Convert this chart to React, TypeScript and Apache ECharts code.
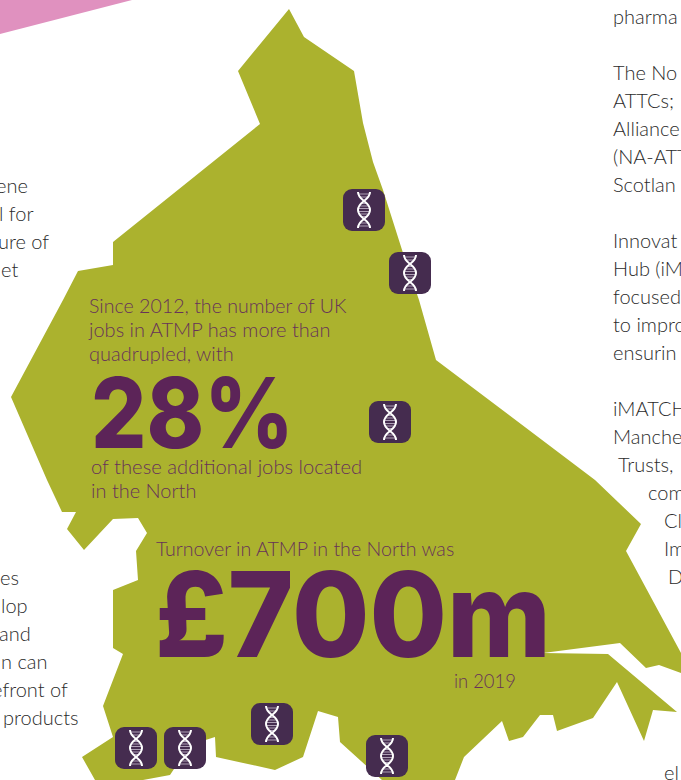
import React, { useEffect, useRef } from "react";
import * as echarts from "echarts";

const BODY_FONT = "Lato";
const BIG_FONT = "Inter";
const COLOR_BODY = "#2b2b2b";
const COLOR_MAP = "#abb22e";
const COLOR_PINK = "#e091bf";
const COLOR_PURPLE = "#5c2458";
const COLOR_SOFT = "#673259";
const COLOR_ICON = "#452c4f";

const mapOutline = [
  [289,9],[304,37],[354,71],[363,123],[373,162],[383,190],[403,253],[419,300],[436,360],[595,480],[641,524],[626,551],[681,653],
  [681,673],[659,665],[646,668],[620,643],[543,653],[608,654],[677,712],[653,710],[644,741],[617,682],[593,718],[557,731],[553,715],
  [540,715],[523,737],[509,741],[502,721],[464,757],[455,780],[382,780],[340,742],[338,717],[318,711],[303,757],[275,770],[216,757],
  [215,737],[190,745],[170,775],[143,780],[95,780],[82,757],[113,737],[103,706],[123,654],[113,648],[113,590],[138,580],[136,551],
  [147,533],[138,518],[113,519],[84,550],[67,529],[76,512],[62,512],[47,480],[11,397],[63,300],[78,271],[113,265],[113,242],[260,124],[238,71],
];
const pinkOutline = [[0,0],[132,0],[0,34]];
const iconSpots = [[343,189],[389,252],[369,401],[115,727],[164,727],[251,703],[366,735]];

const leftLines = ["ene","l for","ure of","et","es","lop","and","n can","efront of","products"];
const leftX = [-4,-1,-2,1,0,1,-1,1,-8,3];
const leftY = [185,213,241,269,577,605,633,661,689,717];
const rightLines = ["pharma","The No","ATTCs;","Alliance","(NA-ATT","Scotlan","Innovat","Hub (iM","focused","to impro","ensurin","iMATCH","Manche","Trusts,","com","Cl","Im","D","el"];
const rightX = [613,613,613,613,613,613,613,613,613,613,613,613,613,618,648,664,664,668,664];
const rightY = [16,72,100,128,156,184,240,268,296,324,352,408,436,464,492,520,548,576,772];

const introLines = ["Since 2012, the number of UK","jobs in ATMP has more than","quadrupled, with"];
const introY = [305,329,353];
const introScale = [0.98,1.0,1.0];
const outroLines = ["of these additional jobs located","in the North"];
const outroY = [466,490];
const outroScale = [1.01,1.0];
const bigShare = "28%";
const turnoverLabel = "Turnover in ATMP in the North was";
const bigTurnover = "£700m";
const yearLabel = "in 2019";

const STRANDS = "M-6 -18C-6 -9 6 -9 6 0C6 9 -6 9 -6 18M6 -18C6 -9 -6 -9 -6 0C-6 9 6 9 6 18";
const RUNGS = "M-5 -16H5M-4 -13H4M-4 -4H4M-5.5 -1.5H5.5M-5.5 1.5H5.5M-4 4H4M-4 13H4M-5 16H5M-2.5 -6.5H2.5M-2.5 6.5H2.5";
echarts.graphic.registerShape("dnaStrands", echarts.graphic.extendPath(STRANDS, {}));
echarts.graphic.registerShape("dnaRungs", echarts.graphic.extendPath(RUNGS, {}));

function label(text: string, x: number, y: number, size: number, fill: string, scaleX = 1, weight: number | string = 300, family = BODY_FONT) {
  return {
    type: "text", x, y, scaleX, silent: true,
    style: { text, fontFamily: family, fontSize: size, fontWeight: weight, fill, textAlign: "left", textVerticalAlign: "middle" },
  };
}

export default function App() {
  const ref = useRef<HTMLDivElement>(null);
  useEffect(() => {
    const chart = echarts.init(ref.current!, undefined, { renderer: "svg" });
    const elements: any[] = [
      { type: "polygon", shape: { points: pinkOutline }, style: { fill: COLOR_PINK } },
      { type: "polygon", shape: { points: mapOutline }, style: { fill: COLOR_MAP } },
      ...leftLines.map((t, i) => label(t, leftX[i], leftY[i], 20, COLOR_BODY)),
      ...rightLines.map((t, i) => label(t, rightX[i], rightY[i], 20, COLOR_BODY)),
      ...introLines.map((t, i) => label(t, 89, introY[i], 20, COLOR_SOFT, introScale[i])),
      ...outroLines.map((t, i) => label(t, 91, outroY[i], 20, COLOR_SOFT, outroScale[i])),
      label(bigShare, 91, 413, 97, COLOR_PURPLE, 0.897, 800, BIG_FONT),
      label(turnoverLabel, 156, 548, 20, COLOR_SOFT, 0.983),
      label(bigTurnover, 155, 614, 118, COLOR_PURPLE, 0.95, 800, BIG_FONT),
      label(yearLabel, 454, 680, 20, COLOR_SOFT, 0.92),
    ];
    iconSpots.forEach(([x, y]) => {
      elements.push({ type: "rect", x, y, shape: { width: 42, height: 42, r: 9 }, style: { fill: COLOR_ICON } });
      elements.push({ type: "dnaRungs", x: x + 21, y: y + 21, style: { fill: "none", stroke: "#c9bccf", lineWidth: 0.8 } });
      elements.push({ type: "dnaStrands", x: x + 21, y: y + 21, style: { fill: "none", stroke: "#ffffff", lineWidth: 2 } });
    });
    chart.setOption({ animation: false, graphic: { elements } });
    return () => chart.dispose();
  }, []);
  return <div ref={ref} style={{ position: "absolute", left: 0, top: 0, width: 681, height: 780, background: "#fff" }} />;
}
